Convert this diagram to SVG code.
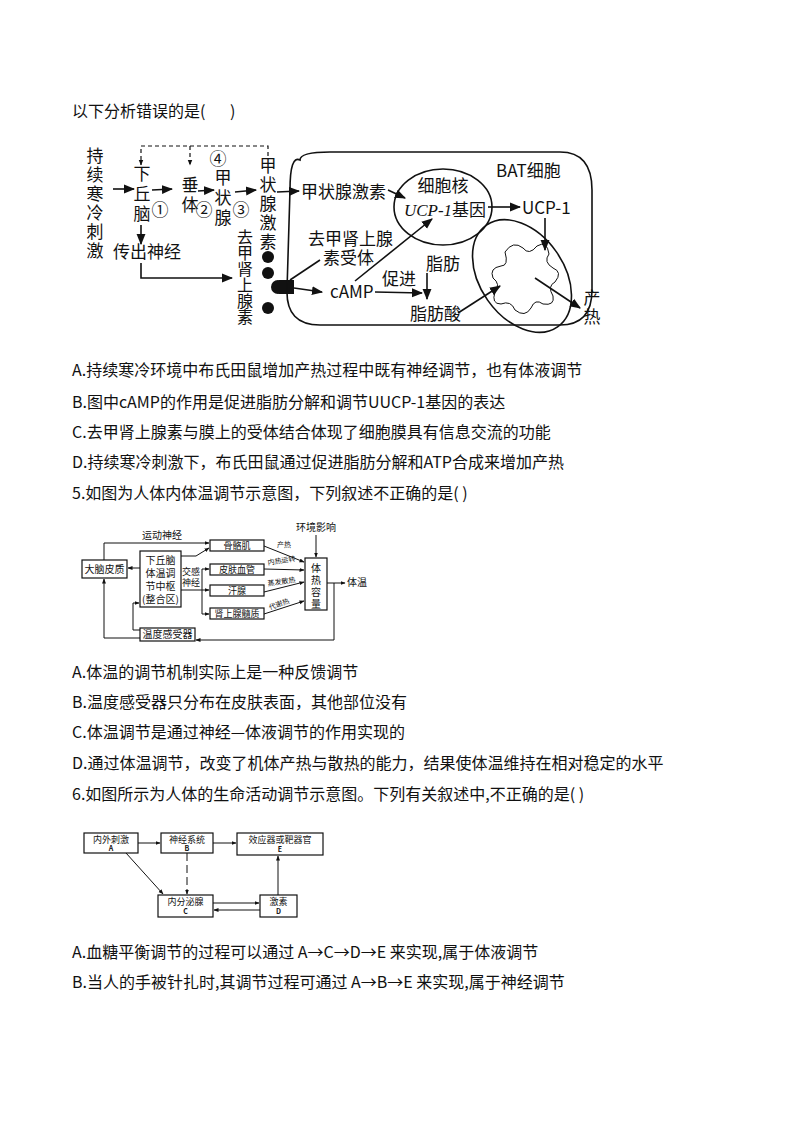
<svg xmlns="http://www.w3.org/2000/svg" width="794" height="1123" viewBox="0 0 794 1123">
<defs>
<marker id="ar" viewBox="0 0 10 10" refX="9" refY="5" markerWidth="7" markerHeight="7" orient="auto"><path d="M0,1 L10,5 L0,9 Z" fill="#111"/></marker>
<marker id="as" viewBox="0 0 10 10" refX="9" refY="5" markerWidth="5" markerHeight="5" orient="auto"><path d="M0,1 L10,5 L0,9 Z" fill="#111"/></marker>
</defs>
<style>
text{font-family:"Noto Sans CJK SC","Noto Sans",sans-serif;fill:#111}
.q{font-size:16px}
.d1{font-size:17px}
.d2{font-size:10px}
.d3{font-size:9px}
.l{stroke:#111;stroke-width:1.6;fill:none}
.l2{stroke:#111;stroke-width:1;fill:none}
.b{fill:#fff;stroke:#111;stroke-width:1.2}
</style>
<rect width="794" height="1123" fill="#fff"/>
<g id="texts">
<text class="q" x="72" y="117">以下分析错误的是(</text><text class="q" x="230" y="117">)</text>
<text class="q" x="72" y="376">A.持续寒冷环境中布氏田鼠增加产热过程中既有神经调节，也有体液调节</text>
<text class="q" x="72" y="408">B.图中cAMP的作用是促进脂肪分解和调节UUCP-1基因的表达</text>
<text class="q" x="72" y="438">C.去甲肾上腺素与膜上的受体结合体现了细胞膜具有信息交流的功能</text>
<text class="q" x="72" y="468">D.持续寒冷刺激下，布氏田鼠通过促进脂肪分解和ATP合成来增加产热</text>
<text class="q" x="72" y="499">5.如图为人体内体温调节示意图，下列叙述不正确的是(  )</text>
<text class="q" x="72" y="678">A.体温的调节机制实际上是一种反馈调节</text>
<text class="q" x="72" y="708">B.温度感受器只分布在皮肤表面，其他部位没有</text>
<text class="q" x="72" y="738">C.体温调节是通过神经—体液调节的作用实现的</text>
<text class="q" x="72" y="769">D.通过体温调节，改变了机体产热与散热的能力，结果使体温维持在相对稳定的水平</text>
<text class="q" x="72" y="800">6.如图所示为人体的生命活动调节示意图。下列有关叙述中,不正确的是(  )</text>
<text class="q" x="72" y="958">A.血糖平衡调节的过程可以通过 A→C→D→E 来实现,属于体液调节</text>
<text class="q" x="72" y="988">B.当人的手被针扎时,其调节过程可通过 A→B→E 来实现,属于神经调节</text>
</g>
<g id="diagram1">
<g id="d1-nodes" class="d1">
<text x="95" y="162" text-anchor="middle">持</text><text x="95" y="181" text-anchor="middle">续</text><text x="95" y="200" text-anchor="middle">寒</text><text x="95" y="219" text-anchor="middle">冷</text><text x="95" y="238" text-anchor="middle">刺</text><text x="95" y="257" text-anchor="middle">激</text>
<text x="142" y="180" text-anchor="middle">下</text><text x="142" y="200" text-anchor="middle">丘</text><text x="142" y="220" text-anchor="middle">脑</text>
<text x="190" y="191" text-anchor="middle">垂</text><text x="190" y="211" text-anchor="middle">体</text>
<text x="223" y="184" text-anchor="middle">甲</text><text x="223" y="204" text-anchor="middle">状</text><text x="223" y="224" text-anchor="middle">腺</text>
<text x="160" y="216" text-anchor="middle">①</text><text x="204" y="216" text-anchor="middle">②</text><text x="241" y="216" text-anchor="middle">③</text><text x="218" y="165" text-anchor="middle">④</text>
<text x="268" y="172" text-anchor="middle">甲</text><text x="268" y="191" text-anchor="middle">状</text><text x="268" y="210" text-anchor="middle">腺</text><text x="268" y="229" text-anchor="middle">激</text><text x="268" y="248" text-anchor="middle">素</text>
<text x="113" y="258">传出神经</text>
<g font-size="16"><text x="245" y="243" text-anchor="middle">去</text><text x="245" y="259" text-anchor="middle">甲</text><text x="245" y="275" text-anchor="middle">肾</text><text x="245" y="291" text-anchor="middle">上</text><text x="245" y="307" text-anchor="middle">腺</text><text x="245" y="323" text-anchor="middle">素</text></g>
<circle cx="268" cy="257" r="6" fill="#111"/><circle cx="268" cy="273" r="6" fill="#111"/><circle cx="268" cy="308" r="6" fill="#111"/>
<circle cx="278" cy="287" r="7" fill="#111"/><rect x="279" y="280" width="15" height="14" fill="#111"/>
<path d="M300,160 Q290,155 290,190 L287,290 Q286,325 320,325 L560,325 Q592,325 592,290 L592,190 Q592,152 560,152 L330,152 Q300,152 300,160 Z" class="l"/>
<text x="496" y="177">BAT细胞</text>
<text x="301" y="198">甲状腺激素</text>
<ellipse cx="443" cy="207" rx="49" ry="38" class="l"/>
<text x="443" y="192" text-anchor="middle">细胞核</text>
<text x="445" y="216" text-anchor="middle"><tspan font-style="italic" font-family="Liberation Serif">UCP-1</tspan>基因</text>
<text x="522" y="214" font-family="Liberation Serif">UCP-1</text>
<text x="308" y="245">去甲肾上腺</text><text x="323" y="264">素受体</text>
<text x="330" y="298" font-family="Liberation Serif">cAMP</text>
<text x="382" y="285">促进</text>
<text x="426" y="270">脂肪</text>
<text x="410" y="320">脂肪酸</text>
<text x="592" y="304" text-anchor="middle">产</text><text x="592" y="323" text-anchor="middle">热</text>
<ellipse cx="522" cy="276" rx="42" ry="62" transform="rotate(-35 522 276)" class="l"/>
<path d="M505,252 q8,-12 18,-4 q6,8 14,-2 q10,-6 12,8 q-6,8 4,14 q10,4 2,14 q-8,4 -2,14 q2,10 -10,8 q-8,-6 -12,4 q-6,10 -16,2 q-4,-10 -14,-6 q-10,0 -6,-12 q6,-8 -2,-14 q-4,-10 8,-12 q8,0 4,-14 z" class="l2" stroke-width="1.3"/>
</g>
<g id="d1-connectors" class="l">
<line x1="113" y1="189" x2="134" y2="189" marker-end="url(#ar)"/>
<line x1="152" y1="190" x2="172" y2="189" marker-end="url(#ar)"/>
<line x1="198" y1="191" x2="214" y2="190" marker-end="url(#ar)"/>
<line x1="235" y1="192" x2="256" y2="190" marker-end="url(#ar)"/>
<path d="M268,156 V146 H141 V165" stroke-dasharray="4,3" marker-end="url(#as)" stroke-width="1.2"/>
<path d="M190,146 V165" stroke-dasharray="4,3" marker-end="url(#as)" stroke-width="1.2"/>
<line x1="141" y1="225" x2="141" y2="244" marker-end="url(#ar)"/>
<path d="M141,263 V278 H232" marker-end="url(#ar)"/>
<line x1="277" y1="192" x2="299" y2="191" marker-end="url(#ar)"/>
<line x1="388" y1="190" x2="405" y2="198" marker-end="url(#ar)"/>
<line x1="488" y1="207" x2="520" y2="207" marker-end="url(#ar)"/>
<line x1="294" y1="288" x2="322" y2="292" marker-end="url(#ar)"/>
<line x1="290" y1="280" x2="320" y2="260"/>
<line x1="355" y1="281" x2="432" y2="219" marker-end="url(#ar)"/>
<line x1="375" y1="292" x2="422" y2="293" marker-end="url(#ar)"/>
<line x1="427" y1="273" x2="427" y2="299" marker-end="url(#ar)"/>
<line x1="458" y1="313" x2="500" y2="286" marker-end="url(#ar)"/>
<line x1="545" y1="218" x2="545" y2="250" marker-end="url(#ar)"/>
<line x1="535" y1="278" x2="580" y2="308" marker-end="url(#ar)"/>
</g>
</g>
<g id="diagram2">
<g id="d2-nodes" class="d2">
<rect x="82" y="560" width="45" height="18" class="b"/><text x="104.5" y="573" text-anchor="middle">大脑皮质</text>
<rect x="140" y="551" width="41" height="56" class="b"/>
<text x="160.5" y="564" text-anchor="middle">下丘脑</text><text x="160.5" y="577" text-anchor="middle">体温调</text><text x="160.5" y="590" text-anchor="middle">节中枢</text><text x="160.5" y="603" text-anchor="middle">(整合区)</text>
<rect x="210" y="540" width="54" height="11" class="b"/><text x="237" y="549" text-anchor="middle" font-size="9">骨骼肌</text>
<rect x="210" y="564" width="54" height="11" class="b"/><text x="237" y="573" text-anchor="middle" font-size="9">皮肤血管</text>
<rect x="210" y="585" width="54" height="11" class="b"/><text x="237" y="594" text-anchor="middle" font-size="9">汗腺</text>
<rect x="210" y="608" width="54" height="11" class="b"/><text x="237" y="617" text-anchor="middle" font-size="9">肾上腺髓质</text>
<rect x="305" y="558" width="22" height="52" class="b"/>
<text x="316" y="572" text-anchor="middle">体</text><text x="316" y="584" text-anchor="middle">热</text><text x="316" y="596" text-anchor="middle">容</text><text x="316" y="608" text-anchor="middle">量</text>
<rect x="140" y="628" width="55" height="13" class="b"/><text x="167.5" y="638" text-anchor="middle">温度感受器</text>
<text x="316" y="531" text-anchor="middle">环境影响</text>
<text x="142" y="539">运动神经</text>
<text x="182" y="575" font-size="9">交感</text><text x="182" y="586" font-size="9">神经</text>
<text x="347" y="586">体温</text>
<text x="277" y="547" font-size="7">产热</text>
<text x="268" y="565" font-size="7" transform="rotate(-8 268 565)">内热运转</text>
<text x="268" y="586" font-size="7" transform="rotate(-8 268 586)">蒸发散热</text>
<text x="270" y="610" font-size="7" transform="rotate(-20 270 610)">代谢热</text>
</g>
<g id="d2-connectors" class="l2">
<path d="M104,560 V543 H209" marker-end="url(#as)"/>
<path d="M181,556 L196,556 L209,548" marker-end="url(#as)"/>
<line x1="140" y1="568" x2="128" y2="568" marker-end="url(#as)"/>
<path d="M181,590 H202"/>
<path d="M202,569 V614"/>
<line x1="202" y1="569" x2="209" y2="569" marker-end="url(#as)"/>
<line x1="202" y1="590" x2="209" y2="590" marker-end="url(#as)"/>
<line x1="202" y1="614" x2="209" y2="614" marker-end="url(#as)"/>
<line x1="264" y1="546" x2="304" y2="562" marker-end="url(#as)"/>
<line x1="264" y1="569" x2="304" y2="570" marker-end="url(#as)"/>
<line x1="264" y1="592" x2="304" y2="582" marker-end="url(#as)"/>
<line x1="264" y1="614" x2="304" y2="601" marker-end="url(#as)"/>
<line x1="316" y1="535" x2="316" y2="557" marker-end="url(#as)"/>
<line x1="327" y1="583" x2="345" y2="583" marker-end="url(#as)"/>
<path d="M334,583 V640 H196" marker-end="url(#as)"/>
<path d="M140,638 H104 V579" marker-end="url(#as)"/>
<path d="M140,630 H133 V603 H139" marker-end="url(#as)"/>
</g>
</g>
<g id="diagram3">
<g id="d3-nodes" class="d3">
<rect x="84" y="833" width="54" height="20" class="b"/><text x="111" y="843" text-anchor="middle">内外刺激</text><text x="111" y="851" text-anchor="middle" font-size="7" font-family="Liberation Serif" font-weight="bold">A</text>
<rect x="161" y="833" width="52" height="20" class="b"/><text x="187" y="843" text-anchor="middle">神经系统</text><text x="187" y="851" text-anchor="middle" font-size="7" font-family="Liberation Serif" font-weight="bold">B</text>
<rect x="237" y="833" width="86" height="22" class="b"/><text x="280" y="843" text-anchor="middle">效应器或靶器官</text><text x="280" y="852" text-anchor="middle" font-size="7" font-family="Liberation Serif" font-weight="bold">E</text>
<rect x="158" y="895" width="55" height="22" class="b"/><text x="185.5" y="905" text-anchor="middle">内分泌腺</text><text x="185.5" y="914" text-anchor="middle" font-size="7" font-family="Liberation Serif" font-weight="bold">C</text>
<rect x="260" y="895" width="37" height="22" class="b"/><text x="278.5" y="905" text-anchor="middle">激素</text><text x="278.5" y="914" text-anchor="middle" font-size="7" font-family="Liberation Serif" font-weight="bold">D</text>
</g>
<g id="d3-connectors" class="l2">
<line x1="138" y1="843" x2="160" y2="843" marker-end="url(#as)"/>
<line x1="213" y1="843" x2="236" y2="843" marker-end="url(#as)"/>
<line x1="126" y1="853" x2="163" y2="894" marker-end="url(#as)"/>
<line x1="187" y1="853" x2="187" y2="894" stroke-dasharray="8,4" marker-end="url(#as)"/>
<line x1="213" y1="903" x2="259" y2="903" marker-end="url(#as)"/>
<line x1="260" y1="910" x2="214" y2="910" marker-end="url(#as)"/>
<line x1="278" y1="895" x2="278" y2="856" marker-end="url(#as)"/>
</g>
</g>
</svg>
